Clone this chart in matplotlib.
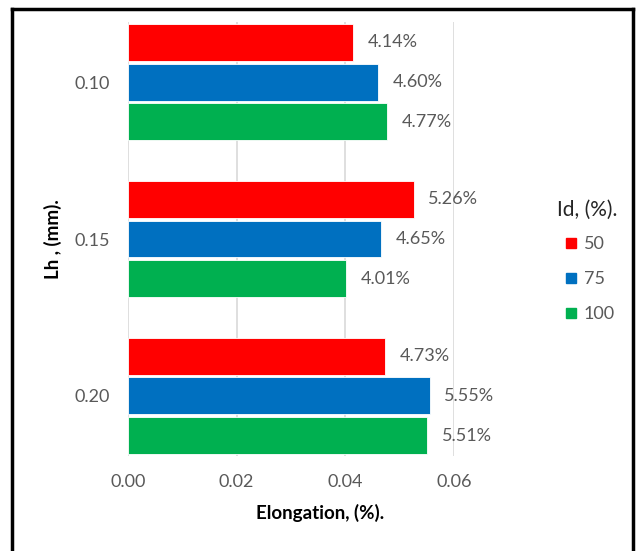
import matplotlib.pyplot as plt
import matplotlib.patches as mpatches
from matplotlib.lines import Line2D
import numpy as np

plt.rcParams['font.family'] = ['Lato', 'DejaVu Sans']

categories = ['0.10', '0.15', '0.20']
series_names = ['50', '75', '100']
values_50 = [0.0414, 0.0526, 0.0473]
values_75 = [0.0460, 0.0465, 0.0555]
values_100 = [0.0477, 0.0401, 0.0551]
colors = ['#FF0000', '#0070C0', '#00B050']

series = [values_50, values_75, values_100]

fig = plt.figure(figsize=(6.36, 5.51), dpi=100)
ax = fig.add_axes([128 / 636, 95 / 551, 326 / 636, 434 / 551])

y = np.arange(len(categories))
step = 0.253
h = 0.235
for i, (vals, c) in enumerate(zip(series, colors)):
    pos = y + (i - 1) * step
    ax.barh(pos, vals, height=h, color=c, edgecolor='white', linewidth=0.6, zorder=3)
    for p, v in zip(pos, vals):
        ax.text(v + 0.0027, p, '%.2f%%' % (v * 100), va='center', ha='left',
                fontsize=13, color='#595959', zorder=4)

ax.set_xlim(0, 0.06)
ax.set_ylim(2.383, -0.383)
ax.set_xticks([0, 0.02, 0.04, 0.06])
ax.set_xticklabels(['0.00', '0.02', '0.04', '0.06'])
ax.set_yticks(y)
ax.set_yticklabels(categories)
ax.tick_params(length=0, labelsize=13, colors='#595959')
ax.tick_params(axis='x', pad=13)
ax.tick_params(axis='y', pad=13)
ax.grid(axis='x', color='#D9D9D9', linewidth=1.2, zorder=0)
for s in ax.spines.values():
    s.set_visible(False)

ax.set_xlabel('Elongation, (%).', fontsize=13.5, fontweight='bold')
ax.xaxis.set_label_coords((320 - 128) / 326, -(504 - 456) / 434)
ax.set_ylabel('Lh , (mm).', fontsize=13.5, fontweight='bold')
ax.yaxis.set_label_coords((62 - 128) / 326, 0.5)

# legend: title as separate text to match spacing
fig.text(557 / 636, 1 - 210 / 551, 'Id, (%).', fontsize=15, color='#262626',
         ha='left', va='center')
handles = [mpatches.Patch(color=c, label=n) for c, n in zip(colors, series_names)]
leg = fig.legend(handles=handles, loc='upper left',
                 bbox_to_anchor=(552 / 636, 1 - 222 / 551), frameon=False,
                 fontsize=13, handlelength=0.55, handleheight=0.55,
                 handletextpad=0.4, labelspacing=1.05, borderpad=0.3)
for t in leg.get_texts():
    t.set_color('#595959')

# outer frame
x0, x1, y0, y1 = 12 / 636, 633 / 636, 0.0, 1 - 9 / 551
for xs, ys in [([x0, x1], [y1, y1]), ([x0, x0], [y0, y1]), ([x1, x1], [y0, y1])]:
    fig.add_artist(Line2D(xs, ys, transform=fig.transFigure, color='black',
                          linewidth=2.5, solid_capstyle='projecting'))

plt.savefig('out.png', dpi=100)
